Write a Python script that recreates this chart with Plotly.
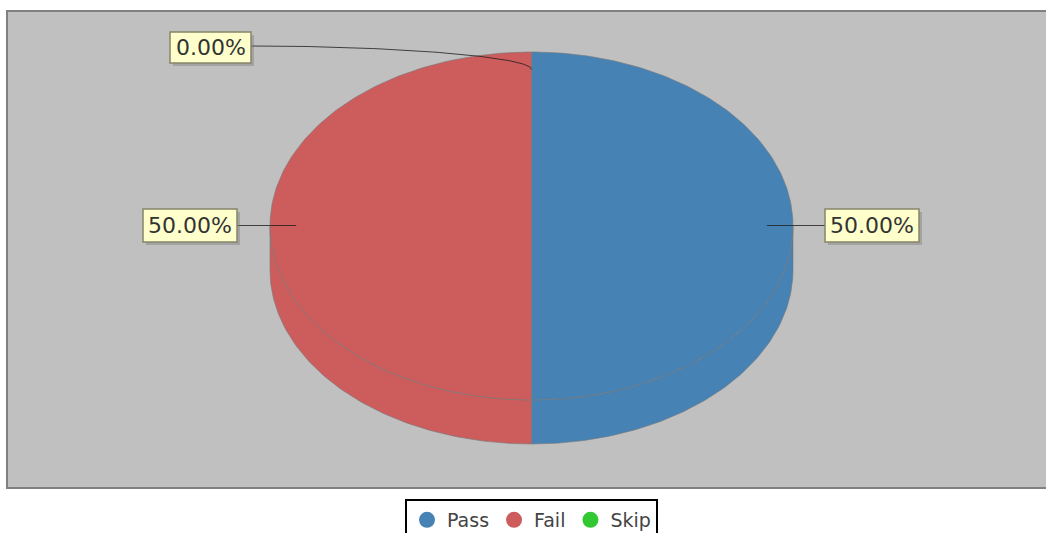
import numpy as np
import plotly.graph_objects as go

categories = ["Pass", "Fail", "Skip"]
values = [50, 50, 0]
label_texts = ["50.00%", "50.00%", "0.00%"]
colors = ["#4682B4", "#CD5C5C", "#32C832"]

W, H = 1046, 533
L, R, T, B = 7, 1046, 11, 488
CX, CY, RX, RY, DEPTH = 531.5, 226, 261.5, 174, 44
EDGE = "rgba(120,120,120,0.6)"


def ux(px):
    return (px - CX) / RX


def uy(py):
    return (CY - py) / RY


dy = DEPTH / RY
fig = go.Figure()
total = sum(values)

# slices run clockwise from twelve o'clock
start = 90.0
spans = []
for v in values:
    sweep = 360.0 * v / total
    spans.append((start, start - sweep))
    start -= sweep

# extruded side walls
for (a0, a1), col in zip(spans, colors):
    if a0 == a1:
        continue
    t = np.radians(np.linspace(a0, a1, 181))
    x, y = np.cos(t), np.sin(t)
    front = y <= 1e-9
    xs, ys = x[front], y[front]
    fig.add_trace(go.Scatter(
        x=np.r_[xs, xs[::-1], xs[0]],
        y=np.r_[ys, ys[::-1] - dy, ys[0]],
        mode="lines", fill="toself", fillcolor=col,
        line=dict(color=EDGE, width=1), hoverinfo="skip", showlegend=False))

# top faces
for (a0, a1), col in zip(spans, colors):
    if a0 == a1:
        continue
    t = np.radians(np.linspace(a0, a1, 181))
    fig.add_trace(go.Scatter(
        x=np.r_[0, np.cos(t), 0],
        y=np.r_[0, np.sin(t), 0],
        mode="lines", fill="toself", fillcolor=col,
        line=dict(color=EDGE, width=1), hoverinfo="skip", showlegend=False))

# legend entries
for name, col in zip(categories, colors):
    fig.add_trace(go.Scatter(
        x=[None], y=[None], mode="markers", name=name,
        marker=dict(color=col, size=16, symbol="circle"), hoverinfo="skip"))

# leader lines
LEAD = 0.9
boxes = [(825, 919, 209, 242), (143, 237, 209, 242), (170, 251, 32, 63)]
mid = [(a0 + a1) / 2 for a0, a1 in spans]
for i, (m, box) in enumerate(zip(mid, boxes)):
    ax, ay = LEAD * np.cos(np.radians(m)), LEAD * np.sin(np.radians(m))
    bx = ux(box[0]) if ax > 1e-6 else ux(box[1])
    by = uy((box[2] + box[3]) / 2 - (1.5 if i == 2 else 0))
    s = np.linspace(0, 1, 60)
    if abs(ay) < 1e-6:
        lx, ly = np.linspace(ax, bx, 2), np.array([by, by])
    else:
        p0 = (ax, ay)
        p1 = (ax, ay + 0.07)
        p2 = (ux(400), by)
        p3 = (bx, by)
        lx = (1-s)**3*p0[0] + 3*(1-s)**2*s*p1[0] + 3*(1-s)*s**2*p2[0] + s**3*p3[0]
        ly = (1-s)**3*p0[1] + 3*(1-s)**2*s*p1[1] + 3*(1-s)*s**2*p2[1] + s**3*p3[1]
    fig.add_trace(go.Scatter(x=lx, y=ly, mode="lines",
                             line=dict(color="rgba(30,30,30,0.8)", width=1),
                             hoverinfo="skip", showlegend=False))

shapes = []
annotations = []
for txt, box in zip(label_texts, boxes):
    x0, x1, y0, y1 = box
    shapes.append(dict(type="rect", xref="x", yref="y",
                       x0=ux(x0 + 3), x1=ux(x1 + 3), y0=uy(y0 + 3), y1=uy(y1 + 3),
                       fillcolor="rgba(120,120,120,0.4)", line=dict(width=0), layer="above"))
    shapes.append(dict(type="rect", xref="x", yref="y",
                       x0=ux(x0), x1=ux(x1), y0=uy(y0), y1=uy(y1),
                       fillcolor="#FFFFCC", line=dict(color="#85856A", width=1.5), layer="above"))
    annotations.append(dict(x=ux((x0 + x1) / 2), y=uy((y0 + y1) / 2), xref="x", yref="y",
                            text=txt, showarrow=False, xanchor="center", yanchor="middle",
                            font=dict(family="DejaVu Sans", size=22, color="#333333")))

fig.update_layout(
    width=W, height=H,
    margin=dict(l=L, r=W - R, t=T, b=H - B, autoexpand=False),
    paper_bgcolor="white", plot_bgcolor="#C0C0C0",
    xaxis=dict(range=[ux(L), ux(R)], visible=False, fixedrange=True),
    yaxis=dict(range=[uy(B), uy(T)], visible=False, fixedrange=True),
    shapes=shapes + [dict(type="rect", xref="paper", yref="paper", x0=0, x1=1.01, y0=0, y1=1,
                          line=dict(color="#808080", width=2), layer="above")],
    annotations=annotations,
    legend=dict(orientation="h", x=(531.5 - L) / (R - L), xanchor="center",
                y=(B - 499) / (B - T), yanchor="top",
                bordercolor="black", borderwidth=2, bgcolor="white",
                itemwidth=30, font=dict(family="DejaVu Sans", size=19, color="#444444")),
)
fig.write_html("out.html", config={"displayModeBar": False},
               post_script="document.body.style.margin='0';")
